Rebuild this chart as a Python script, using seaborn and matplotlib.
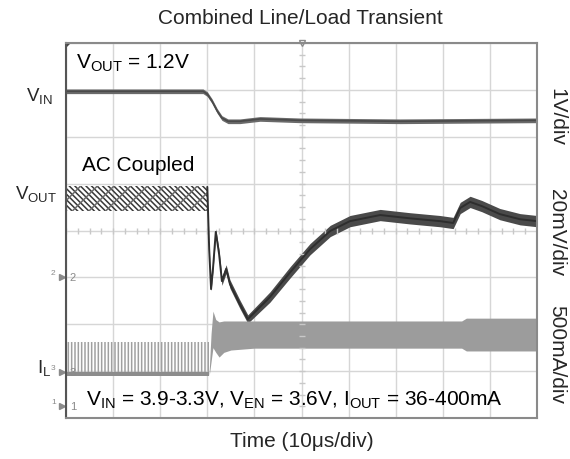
import numpy as np
import matplotlib
matplotlib.use("Agg")
import matplotlib.pyplot as plt
import seaborn as sns

# values, in divisions (x: 0-10, y: 0-8)
vin_t = [0, 2.91, 3.00, 3.10, 3.21, 3.31, 3.44, 3.69, 4.12, 4.97, 7.09, 10]
vin_v = [6.97, 6.97, 6.91, 6.76, 6.55, 6.40, 6.33, 6.33, 6.38, 6.35, 6.33, 6.35]

# VOUT ripple band before the step
vout_ripple_t = [0, 3.0]
vout_ripple_hi = [4.95, 4.95]
vout_ripple_lo = [4.41, 4.41]

# VOUT after the step (centre line and half width of the band)
vout_t = [3.00, 3.04, 3.08, 3.12, 3.18, 3.25, 3.31, 3.40, 3.48, 3.69, 3.86, 4.12,
          4.33, 4.76, 5.18, 5.61, 6.03, 6.67, 7.30, 7.94, 8.22, 8.37, 8.58, 8.83,
          9.21, 9.64, 10]
vout_v = [4.93, 3.60, 2.75, 3.18, 3.97, 3.50, 2.92, 3.18, 2.86, 2.43, 2.11, 2.37,
          2.58, 3.11, 3.60, 3.99, 4.20, 4.33, 4.26, 4.20, 4.16, 4.48, 4.61, 4.52,
          4.35, 4.24, 4.20]
vout_half = [0.02, 0.03, 0.04, 0.05, 0.07, 0.08, 0.09, 0.09, 0.09, 0.09, 0.09, 0.1,
             0.11, 0.12, 0.12, 0.12, 0.12, 0.12, 0.12, 0.12, 0.12, 0.12, 0.12, 0.12,
             0.12, 0.12, 0.12]

# inductor current: spiky part before the step, dense band after it
il_pre_t = [0, 3.04]
il_pre_base = [0.94, 0.94]
il_pre_peak = [1.62, 1.62]
il_t = [3.04, 3.08, 3.12, 3.18, 3.25, 3.35, 3.50, 4.00, 8.40, 8.50, 10]
il_hi = [1.00, 1.80, 2.28, 2.10, 2.05, 2.07, 2.07, 2.07, 2.07, 2.13, 2.13]
il_lo = [0.90, 1.20, 1.50, 1.40, 1.30, 1.40, 1.45, 1.49, 1.49, 1.43, 1.43]

sns.set_theme(style="white")
plt.rcParams['font.family'] = ['Liberation Sans', 'DejaVu Sans']
plt.rcParams['hatch.linewidth'] = 1.1

W, H = 570, 460
fig = plt.figure(figsize=(W / 100, H / 100), dpi=100)
ax = fig.add_axes([66 / W, 1 - 419 / H, 471 / W, 375 / H])
ax.set_xlim(0, 10)
ax.set_ylim(0, 8)

# scope graticule
ax.set_xticks(range(11))
ax.set_yticks(range(9))
ax.grid(True, color='#d6d6d6', linewidth=1.0)
ax.tick_params(length=0, labelbottom=False, labelleft=False)
for s in ax.spines.values():
    s.set_color('#8a8a8a')
    s.set_linewidth(1.5)
ax.spines['left'].set_color('#555555')
minor = np.arange(0, 10.01, 0.25)
ax.plot(minor, np.full_like(minor, 4.0), ls='none', marker='|', ms=4, color='#c8c8c8', mew=1)
minor_y = np.arange(0, 8.01, 0.25)
ax.plot(np.full_like(minor_y, 5.0), minor_y, ls='none', marker='_', ms=4, color='#c8c8c8', mew=1)

# VIN
ax.fill_between(vin_t, np.array(vin_v) - 0.05, np.array(vin_v) + 0.05, color='#6a6a6a', lw=0)
sns.lineplot(x=vin_t, y=vin_v, ax=ax, color='#4a4a4a', lw=1.2)

# VOUT
ax.fill_between(vout_ripple_t, vout_ripple_lo, vout_ripple_hi, facecolor='none',
                edgecolor='#383838', hatch='\\\\\\\\\\\\', lw=0)
ax.fill_between(vout_ripple_t, vout_ripple_lo, vout_ripple_hi, facecolor='none',
                edgecolor='#6a6a6a', hatch='//', lw=0)
ax.fill_between(vout_t, np.array(vout_v) - np.array(vout_half),
                np.array(vout_v) + np.array(vout_half), color='#4a4a4a', lw=0)
sns.lineplot(x=vout_t, y=vout_v, ax=ax, color='#2e2e2e', lw=1.4)

# IL
ax.fill_between(il_pre_t, il_pre_base, il_pre_peak, facecolor='none',
                edgecolor='#a0a0a0', hatch='|||||', lw=0)
ax.fill_between(il_pre_t, np.array(il_pre_base) - 0.05, np.array(il_pre_base) + 0.05,
                color='#8c8c8c', lw=0)
ax.fill_between(il_t, il_lo, il_hi, color='#9c9c9c', lw=0)

# channel markers
mk = dict(fontsize=8, color='#8a8a8a', va='center')
for lab, yv in [('2', 3.0), ('3', 0.98), ('1', 0.26)]:
    ax.text(0.08, yv, lab, ha='left', **mk)
    ax.text(-0.22, yv + 0.1, lab, ha='right', fontsize=6, color='#8a8a8a', va='center')
    ax.plot(-0.08, yv, marker='>', ms=4, color='#8a8a8a', clip_on=False)
ax.plot(5.0, 8.0, marker='v', ms=5, mfc='white', mec='#8a8a8a', clip_on=False)
ax.plot(0.0, 8.0, marker=(3, 0, 45), ms=6, color='#444444')

# annotations inside the screen
tx = dict(fontsize=15, color='black')
ax.text(0.22, 7.58, r'V$_\mathregular{OUT}$ = 1.2V', va='center', **tx)
ax.text(0.33, 5.4, 'AC Coupled', va='center', **tx)
ax.text(0.42, 0.40, r'V$_\mathregular{IN}$ = 3.9-3.3V, V$_\mathregular{EN}$ = 3.6V, '
        r'I$_\mathregular{OUT}$ = 36-400mA', va='center', **tx)

# channel names on the left
fig.text(39 / W, 1 - 97 / H, r'V$_\mathregular{IN}$', ha='center', va='center', fontsize=13.5)
fig.text(36 / W, 1 - 195 / H, r'V$_\mathregular{OUT}$', ha='center', va='center', fontsize=13.5)
fig.text(44 / W, 1 - 369 / H, r'I$_\mathregular{L}$', ha='center', va='center', fontsize=13.5)

# scale factors on the right
for lab, yp in [('1V/div', 117), ('20mV/div', 233), ('500mA/div', 355)]:
    fig.text(557 / W, 1 - yp / H, lab, rotation=-90, ha='center', va='center', fontsize=15)

fig.text(300 / W, 1 - 19 / H, 'Combined Line/Load Transient', ha='center', va='center', fontsize=15)
fig.text(302 / W, 1 - 442 / H, 'Time (10μs/div)', ha='center', va='center', fontsize=15)

fig.savefig('out.png', dpi=100)
